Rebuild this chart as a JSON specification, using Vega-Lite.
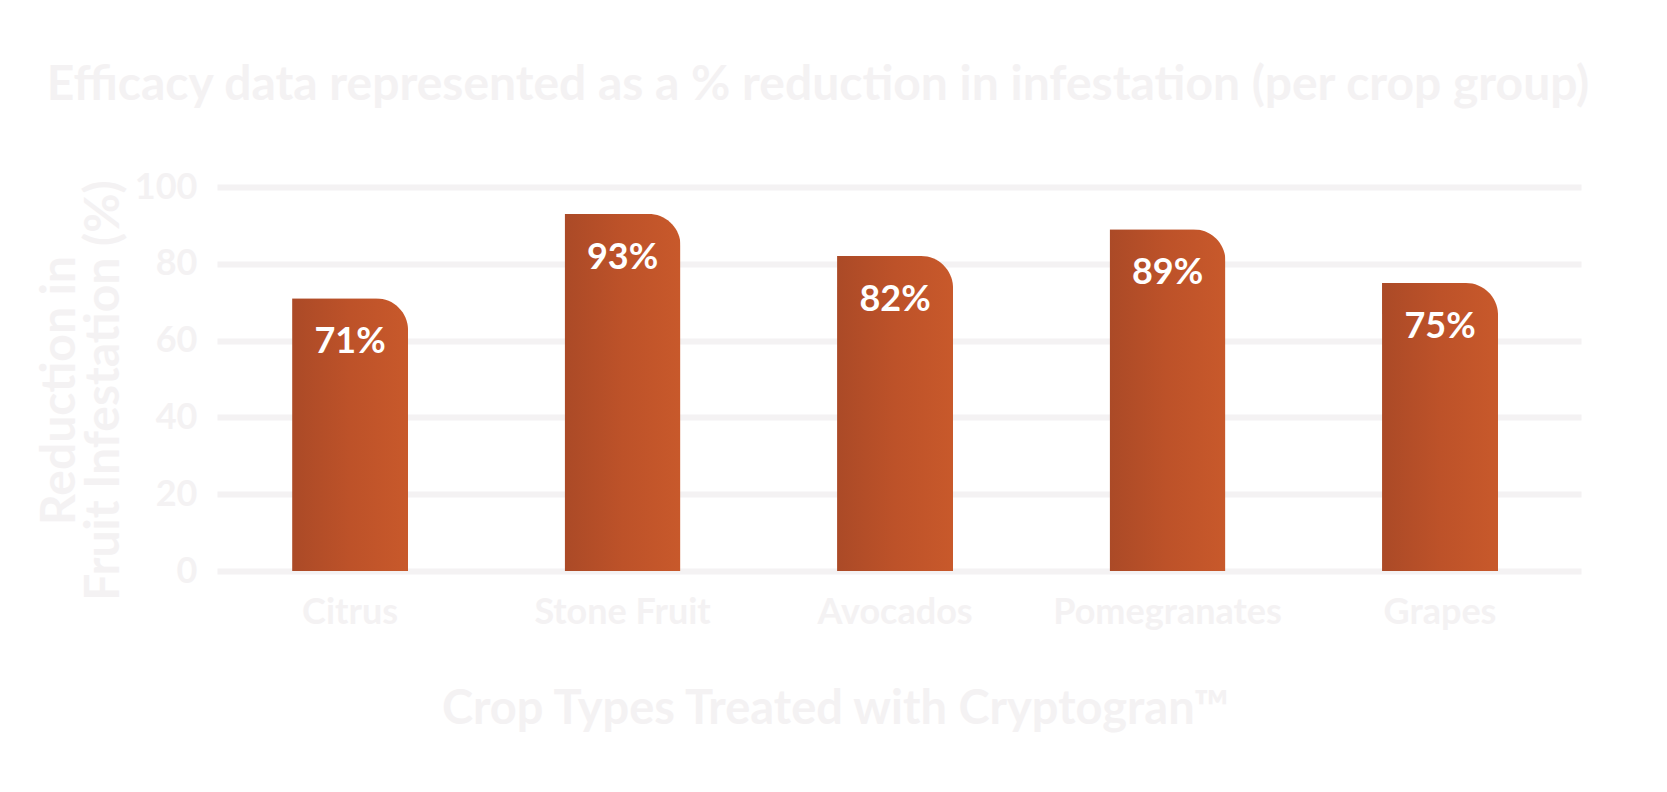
{
  "$schema": "https://vega.github.io/schema/vega-lite/v6.json",
  "width": 1364,
  "height": 384,
  "autosize": {"type": "none"},
  "padding": {"left": 217, "top": 187, "right": 86, "bottom": 221},
  "background": "#ffffff",
  "title": {
    "text": "Efficacy data represented as a % reduction in infestation (per crop group)",
    "font": "Lato",
    "fontSize": 48,
    "fontWeight": "bold",
    "color": "#f4f2f3",
    "frame": "group",
    "anchor": "middle",
    "baseline": "alphabetic",
    "offset": 21,
    "dx": -81,
    "limit": 0
  },
  "data": {
    "values": [
      {"crop": "Citrus", "reduction": 71, "label": "71%"},
      {"crop": "Stone Fruit", "reduction": 93, "label": "93%"},
      {"crop": "Avocados", "reduction": 82, "label": "82%"},
      {"crop": "Pomegranates", "reduction": 89, "label": "89%"},
      {"crop": "Grapes", "reduction": 75, "label": "75%"}
    ]
  },
  "encoding": {
    "x": {
      "field": "crop",
      "type": "nominal",
      "sort": null,
      "scale": {"paddingInner": 0.5743, "paddingOuter": 0.29, "align": 0.475},
      "axis": {
        "title": "Crop Types Treated with Cryptogran™",
        "labelAngle": 0,
        "labelFont": "Lato",
        "labelFontSize": 36,
        "labelFontWeight": "bold",
        "labelColor": "#f4f2f3",
        "labelBaseline": "alphabetic",
        "labelPadding": 52,
        "labelLimit": 0,
        "ticks": false,
        "tickSize": 0,
        "domain": false,
        "grid": false,
        "titleFont": "Lato",
        "titleFontSize": 47,
        "titleFontWeight": "bold",
        "titleColor": "#f4f2f3",
        "titleBaseline": "alphabetic",
        "titleAnchor": "start",
        "titleAlign": "center",
        "titleX": 618,
        "titleY": 152
      }
    },
    "y": {
      "field": "reduction",
      "type": "quantitative",
      "scale": {"domain": [0, 100]},
      "axis": {
        "values": [0, 20, 40, 60, 80, 100],
        "title": ["Reduction in", "Fruit Infestation (%)"],
        "labelFont": "Lato",
        "labelFontSize": 36,
        "labelFontWeight": "bold",
        "labelColor": "#f4f2f3",
        "labelPadding": 20,
        "ticks": false,
        "tickSize": 0,
        "domain": false,
        "grid": true,
        "gridColor": "#f4f2f3",
        "gridWidth": 6,
        "titleFont": "Lato",
        "titleFontSize": 48,
        "titleFontWeight": "bold",
        "titleColor": "#f4f2f3",
        "titleAngle": -90,
        "titleAlign": "center",
        "titleBaseline": "alphabetic",
        "titleLineHeight": 44,
        "titleX": -143,
        "titleY": 203
      }
    }
  },
  "layer": [
    {
      "mark": {
        "type": "bar",
        "cornerRadiusTopRight": 32,
        "color": {
          "gradient": "linear",
          "x1": 0, "y1": 0, "x2": 1, "y2": 0,
          "stops": [
            {"offset": 0, "color": "#ab4a27"},
            {"offset": 0.5, "color": "#bd5229"},
            {"offset": 1, "color": "#c8592b"}
          ]
        }
      }
    },
    {
      "mark": {
        "type": "text",
        "font": "Lato",
        "fontSize": 36,
        "fontWeight": "bold",
        "color": "#ffffff",
        "baseline": "alphabetic",
        "align": "center",
        "dy": 55
      },
      "encoding": {"text": {"field": "label"}}
    }
  ],
  "config": {"view": {"stroke": null}}
}
